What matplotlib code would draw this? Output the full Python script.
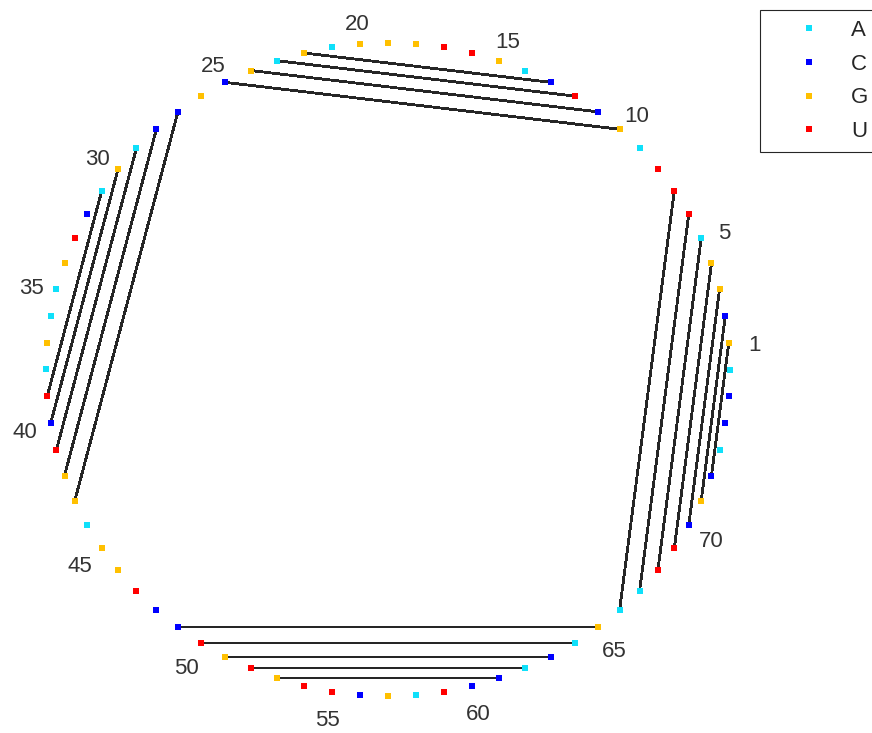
import numpy as np
import matplotlib
matplotlib.use('Agg')
import matplotlib.pyplot as plt

# yeast tRNA-Phe (position 1 just above 3 o'clock, counter-clockwise)
sequence = list("GCGGAUUUAGCUCAGUUGGGAGAGCGCCAGACUGAAGAUCUGGAGGUCCUGUGUUCGAUCCACAGAAUUCGCACCA")

# base pairs (1-based)
pair_5p = [1, 2, 3, 4, 5, 6, 7,
           10, 11, 12, 13,
           27, 28, 29, 30, 31,
           49, 50, 51, 52, 53]
pair_3p = [72, 71, 70, 69, 68, 67, 66,
           25, 24, 23, 22,
           43, 42, 41, 40, 39,
           65, 64, 63, 62, 61]

tick_positions = [1, 5, 10, 15, 20, 25, 30, 35, 40, 45, 50, 55, 60, 65, 70]

bases = ['A', 'C', 'G', 'U']
base_colors = {'A': '#0FE0FA', 'C': '#0000FF', 'G': '#FFC000', 'U': '#FF0000'}

plt.rcParams['font.family'] = ['Liberation Sans', 'DejaVu Sans']

n = len(sequence)
theta = 2 * np.pi * np.arange(1, n + 1) / n
xs = np.cos(theta)
ys = np.sin(theta)

fig = plt.figure(figsize=(8.72, 7.33), dpi=100)
W, H = 872., 733.
ax = fig.add_axes([46 / W, (H - 696) / H, 684 / W, 653 / H])
ax.set_xlim(-1, 1)
ax.set_ylim(-1, 1)
ax.axis('off')

# chords for the pairs
for i, j in zip(pair_5p, pair_3p):
    ax.plot([xs[i - 1], xs[j - 1]], [ys[i - 1], ys[j - 1]], color='#262626',
            lw=1.3, antialiased=False, zorder=1, solid_capstyle='butt')

# nucleotides
seq = np.array(sequence)
for b in bases:
    m = seq == b
    ax.plot(xs[m], ys[m], linestyle='none', marker='s', markersize=4.3,
            markeredgewidth=0, color=base_colors[b], label=b, zorder=3,
            clip_on=False)

# position labels
for k in tick_positions:
    ax.text(1.075 * xs[k - 1], 1.075 * ys[k - 1] - 0.016, str(k), ha='center', va='center',
            fontsize=16, color='#333333', clip_on=False)

leg = fig.legend(loc='upper left', bbox_to_anchor=(760 / W, 1 - 10 / H),
                 fontsize=16, frameon=True, fancybox=False, framealpha=1,
                 edgecolor='#262626', handlelength=3.55, handletextpad=0.1,
                 borderpad=0.45, labelspacing=0.57, borderaxespad=0)
leg.get_frame().set_linewidth(0.8)
for t in leg.get_texts():
    t.set_color('#262626')

fig.savefig('out.png', dpi=100)
